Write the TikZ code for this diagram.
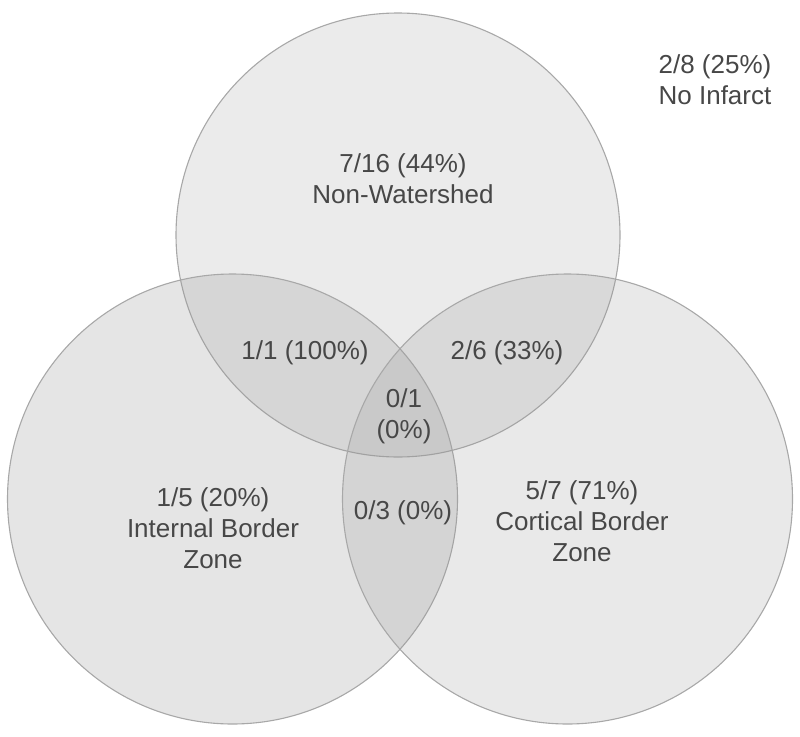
\documentclass[tikz,border=0pt]{standalone}
\usepackage{fontspec}
\setmainfont{Liberation Sans}
\usetikzlibrary{positioning}

\definecolor{vennline}{HTML}{A8A8A8}
\definecolor{venntext}{HTML}{474747}
\definecolor{vennfill}{HTML}{9A9A9A}

\begin{document}
\begin{tikzpicture}[
  x=1pt, y=-1pt,
  font=\fontsize{26}{31}\selectfont,
  every node/.style={inner sep=2pt, text=venntext, align=center},
  venn/.style={draw=vennline, line width=1.1pt, fill=vennfill},
]

% ── Layout constants ──────────────────────────────────────────────────────────
\def\Rt{222pt}      % radius of the top circle
\def\Rb{225pt}      % radius of the two lower circles

% fixed canvas (image coordinates, y grows downwards)
\useasboundingbox (0,0) rectangle (800,736);

% ── Circles ──────────────────────────────────────────────────────────────────
\draw[venn, fill opacity=0.20] (398,235) circle[radius=\Rt];   % Non-Watershed
\draw[venn, fill opacity=0.26] (232.5,499) circle[radius=\Rb]; % Internal Border Zone
\draw[venn, fill opacity=0.22] (567.5,499) circle[radius=\Rb]; % Cortical Border Zone

% ── Region labels ────────────────────────────────────────────────────────────
\node (nw)   at (403,179) {7/16 (44\%)\\Non-Watershed};
\node (ibz)  at (213,528) {1/5 (20\%)\\Internal Border\\Zone};
\node (cbz)  at (582,521) {5/7 (71\%)\\Cortical Border\\Zone};

% overlaps
\node (nwi)  at (305,353) {1/1 (100\%)};
\node (nwc)  at (507,353) {2/6 (33\%)};
\node (all)  at (404,416) {0/1\\(0\%)};
\node (ic)   at (403,513) {0/3 (0\%)};

% outside all circles
\node (none) at (715,80)  {2/8 (25\%)\\No Infarct};

\end{tikzpicture}
\end{document}
